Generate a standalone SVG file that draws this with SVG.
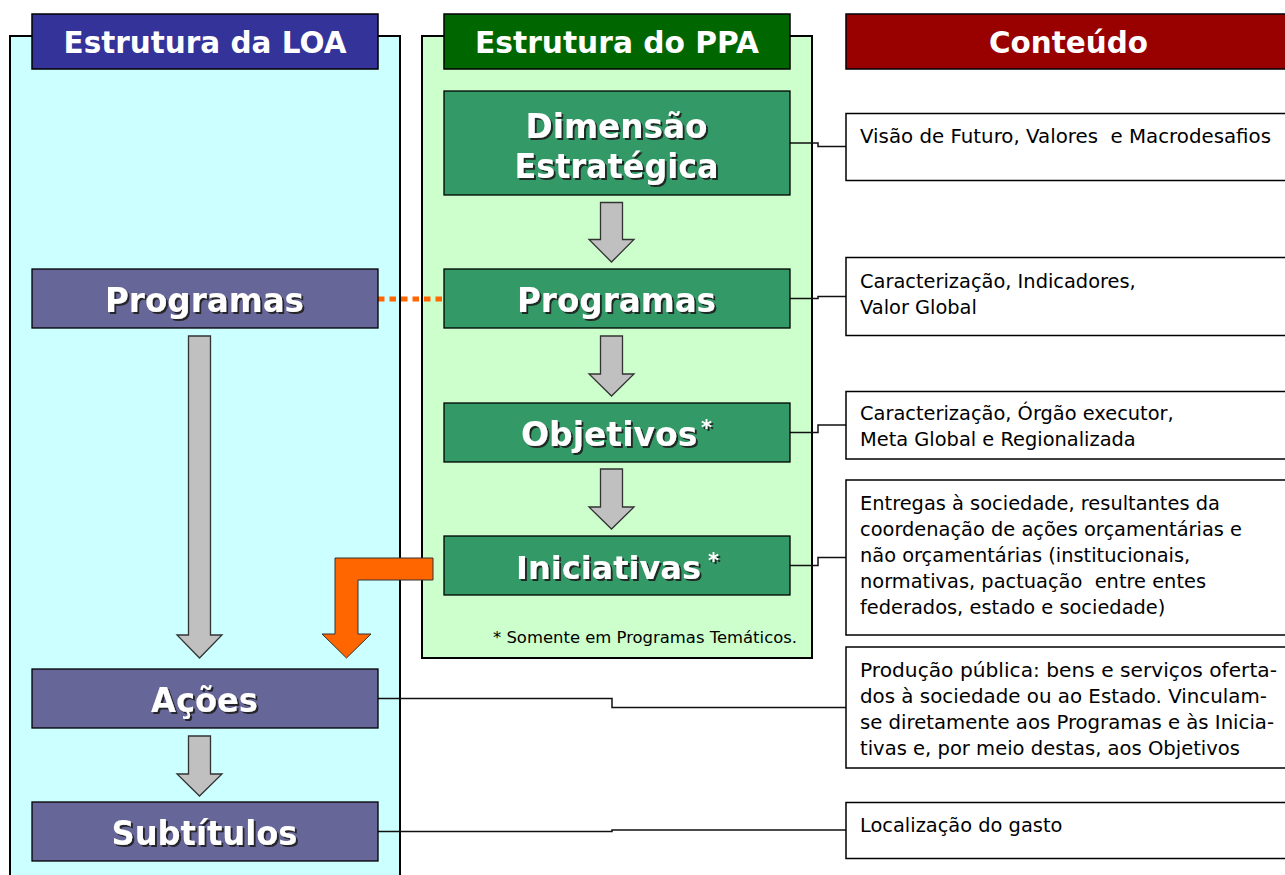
<svg xmlns="http://www.w3.org/2000/svg" width="1285" height="875" viewBox="0 0 1285 875">
<style>
.panel{stroke:#000;stroke-width:2}
.hdrbox{stroke:#000;stroke-width:1.5}
.hdr{font-family:"DejaVu Sans",sans-serif;font-weight:bold;font-size:30.5px;fill:#fff;text-anchor:middle}
.gbox{fill:#339966;stroke:#000;stroke-width:1.3}
.pbox{fill:#666699;stroke:#000;stroke-width:1.3}
.lbl{font-family:"DejaVu Sans",sans-serif;font-weight:bold;font-size:34px;fill:#fff;filter:url(#ts)}
.lbl33{font-size:33px}
.lbl32{font-size:32px}
.ast{font-family:"DejaVu Sans",sans-serif;font-weight:bold;font-size:21px;fill:#fff;filter:url(#ts)}
.mid{text-anchor:middle}
.cbox{fill:#fff;stroke:#000;stroke-width:1.5}
.txt{font-family:"DejaVu Sans",sans-serif;font-size:19.4px;fill:#000;white-space:pre}
.note{font-family:"DejaVu Sans",sans-serif;font-size:16.3px;fill:#000;text-anchor:end}
.garrow{fill:#C0C0C0;stroke:#333;stroke-width:1.3}
.conn{fill:none;stroke:#111;stroke-width:1.5}
</style>
<defs>
<filter id="ts" x="-10%" y="-30%" width="130%" height="160%">
<feDropShadow dx="2" dy="2" stdDeviation="0.3" flood-color="#1a1a1a" flood-opacity="0.9"/>
</filter>
</defs>
<rect width="1285" height="875" fill="#fff"/>

<g id="panel-loa">
<rect class="panel" x="10" y="36" width="390" height="860" fill="#CCFFFF"/>
<rect class="hdrbox" x="32" y="14" width="346" height="55" fill="#333399"/>
<text class="hdr" x="205" y="53" textLength="283" lengthAdjust="spacingAndGlyphs">Estrutura da LOA</text>
</g>

<g id="panel-ppa">
<rect class="panel" x="422" y="36" width="390" height="622" fill="#CCFFCC"/>
<rect class="hdrbox" x="444" y="14" width="346" height="55" fill="#006600"/>
<text class="hdr" x="617" y="53" textLength="284" lengthAdjust="spacingAndGlyphs">Estrutura do PPA</text>
<text class="note" x="797" y="643" textLength="304" lengthAdjust="spacingAndGlyphs">* Somente em Programas Temáticos.</text>
</g>

<g id="header-conteudo">
<rect class="hdrbox" x="846" y="14" width="460" height="55" fill="#990000"/>
<text class="hdr" x="1068.5" y="53" textLength="159" lengthAdjust="spacingAndGlyphs">Conteúdo</text>
</g>

<g id="connectors">
<path class="conn" d="M790,143 H818 V146.5 H846"/>
<path class="conn" d="M790,298.5 H818 V296.5 H846"/>
<path class="conn" d="M790,432.5 H818 V425 H846"/>
<path class="conn" d="M790,565.5 H818 V557.5 H846"/>
<path class="conn" d="M378,698.5 H612 V707.5 H846"/>
<path class="conn" d="M378,831.5 H612 V830 H846"/>
<path d="M378,299 H442" fill="none" stroke="#FF6600" stroke-width="5" stroke-dasharray="6.5 5"/>
<polygon class="garrow" points="600.5,202.5 622.5,202.5 622.5,239.5 634,239.5 611.5,262 589,239.5 600.5,239.5"/>
<polygon class="garrow" points="600.5,336 622.5,336 622.5,374 634,374 611.5,396 589,374 600.5,374"/>
<polygon class="garrow" points="600.5,469 622.5,469 622.5,507 634,507 611.5,529 589,507 600.5,507"/>
<polygon class="garrow" points="188.5,336 210.5,336 210.5,635 222,635 199.5,658 177,635 188.5,635"/>
<polygon class="garrow" points="188.5,736 210.5,736 210.5,774 222,774 199.5,796 177,774 188.5,774"/>
<polygon points="335,558 433,558 433,580 358,580 358,634 371,634 346.5,658 322,634 335,634" fill="#FF6600" stroke="#333" stroke-width="1"/>
</g>

<g id="node-dimensao">
<rect class="gbox" x="444" y="91" width="346" height="104"/>
<text class="lbl lbl33 mid" x="616.5" y="138" textLength="182" lengthAdjust="spacingAndGlyphs">Dimensão</text>
<text class="lbl lbl33 mid" x="616.5" y="177.5" textLength="204" lengthAdjust="spacingAndGlyphs">Estratégica</text>
</g>

<g id="node-programas-ppa">
<rect class="gbox" x="444" y="269" width="346" height="59"/>
<text class="lbl mid" x="616.5" y="312" textLength="199" lengthAdjust="spacingAndGlyphs">Programas</text>
</g>

<g id="node-objetivos">
<rect class="gbox" x="444" y="403" width="346" height="59"/>
<text class="lbl lbl33" x="521" y="446">Objetivos</text>
<text class="ast" x="701" y="435">*</text>
</g>

<g id="node-iniciativas">
<rect class="gbox" x="444" y="536" width="346" height="59"/>
<text class="lbl lbl32" x="516" y="579">Iniciativas</text>
<text class="ast" x="708" y="568">*</text>
</g>

<g id="node-programas-loa">
<rect class="pbox" x="32" y="269" width="346" height="59"/>
<text class="lbl mid" x="204.5" y="312" textLength="199" lengthAdjust="spacingAndGlyphs">Programas</text>
</g>

<g id="node-acoes">
<rect class="pbox" x="32" y="669" width="346" height="59"/>
<text class="lbl mid" x="204.5" y="712" textLength="107" lengthAdjust="spacingAndGlyphs">Ações</text>
</g>

<g id="node-subtitulos">
<rect class="pbox" x="32" y="802" width="346" height="59"/>
<text class="lbl mid" x="204.5" y="845" textLength="186" lengthAdjust="spacingAndGlyphs">Subtítulos</text>
</g>

<g id="content-1">
<rect class="cbox" x="846" y="113.5" width="460" height="67"/>
<text class="txt" x="860" y="143" textLength="411" lengthAdjust="spacingAndGlyphs">Visão de Futuro, Valores  e Macrodesafios</text>
</g>

<g id="content-2">
<rect class="cbox" x="846" y="257.5" width="460" height="78"/>
<text class="txt" x="860" y="288">Caracterização, Indicadores,</text>
<text class="txt" x="860" y="314">Valor Global</text>
</g>

<g id="content-3">
<rect class="cbox" x="846" y="391.5" width="460" height="67.5"/>
<text class="txt" x="860" y="420">Caracterização, Órgão executor,</text>
<text class="txt" x="860" y="446">Meta Global e Regionalizada</text>
</g>

<g id="content-4">
<rect class="cbox" x="846" y="480" width="460" height="155"/>
<text class="txt" x="860" y="510">Entregas à sociedade, resultantes da</text>
<text class="txt" x="860" y="536">coordenação de ações orçamentárias e</text>
<text class="txt" x="860" y="562">não orçamentárias (institucionais,</text>
<text class="txt" x="860" y="588">normativas, pactuação  entre entes</text>
<text class="txt" x="860" y="614">federados, estado e sociedade)</text>
</g>

<g id="content-5">
<rect class="cbox" x="846" y="647" width="460" height="121"/>
<text class="txt" x="860" y="677" textLength="417" lengthAdjust="spacingAndGlyphs">Produção pública: bens e serviços oferta-</text>
<text class="txt" x="860" y="703" textLength="407" lengthAdjust="spacingAndGlyphs">dos à sociedade ou ao Estado. Vinculam-</text>
<text class="txt" x="860" y="729" textLength="414" lengthAdjust="spacingAndGlyphs">se diretamente aos Programas e às Inicia-</text>
<text class="txt" x="860" y="755" textLength="380" lengthAdjust="spacingAndGlyphs">tivas e, por meio destas, aos Objetivos</text>
</g>

<g id="content-6">
<rect class="cbox" x="846" y="802.5" width="460" height="56"/>
<text class="txt" x="860" y="832">Localização do gasto</text>
</g>
</svg>
